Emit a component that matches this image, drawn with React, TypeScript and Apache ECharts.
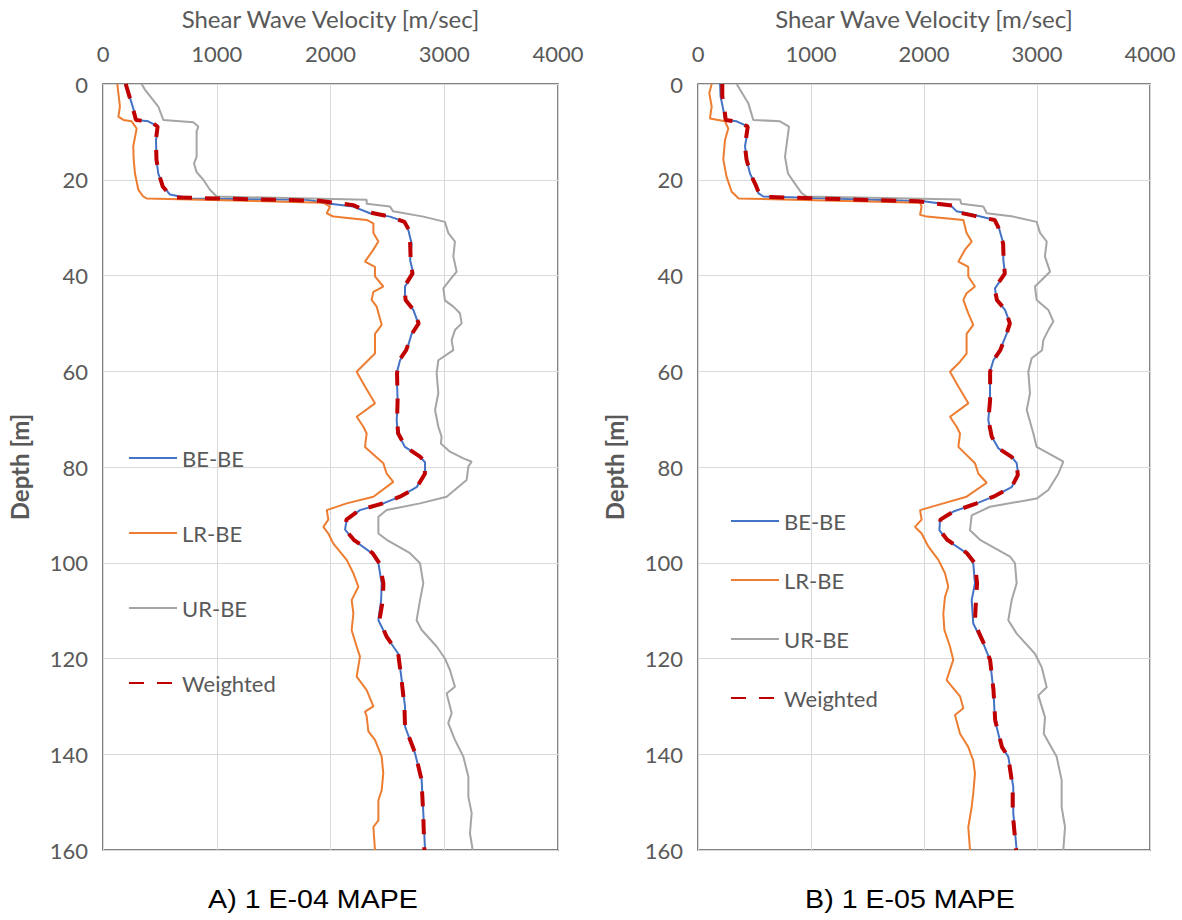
import React, { useEffect, useRef } from "react";
import * as echarts from "echarts";

// [depth (m), shear wave velocity (m/s)]
const A_BE: number[][] = [[0,193],[1.9,223],[4,252],[7.5,296],[7.8,398],[8.9,486],[11.7,466],[15.8,470],[18.7,486],[21.4,530],[23.1,589],[23.9,765],[24.2,1790],[25,1996],[25.6,2201],[27,2347],[27.7,2523],[28.8,2655],[30.5,2684],[33.3,2713],[36.8,2700],[39.6,2728],[42.3,2655],[45.1,2655],[47.2,2728],[50,2772],[52.2,2713],[55.6,2670],[57.7,2611],[60.4,2582],[66,2590],[70.2,2582],[73,2590],[75.8,2655],[77.9,2787],[79,2831],[81.4,2831],[84.2,2757],[86.2,2611],[87.6,2464],[89,2259],[91,2142],[93.1,2128],[95.2,2201],[98,2362],[100.1,2421],[104.3,2450],[107.8,2445],[112,2421],[115.5,2494],[119,2596],[124.5,2626],[130,2655],[134.2,2655],[139.8,2743],[145.3,2801],[152.3,2816],[160,2831]];
const A_LR: number[][] = [[0,126],[1.9,135],[4.7,149],[6.8,135],[7.5,179],[7.8,252],[9.3,296],[13,266],[15.8,270],[18.7,281],[22.1,311],[23.5,354],[23.9,383],[24.8,1937],[25.6,1996],[27,1967],[27.7,2025],[28.4,2318],[29.1,2377],[31.1,2377],[32.9,2421],[34.6,2377],[37.1,2303],[38.2,2391],[40.2,2391],[42.3,2464],[43.4,2377],[45.1,2362],[46.5,2406],[50.3,2450],[52.2,2391],[56.3,2391],[58,2318],[60.1,2230],[63.2,2303],[66.7,2391],[69.5,2230],[71.6,2289],[73,2318],[75.8,2303],[79.2,2464],[81.4,2494],[83.1,2552],[86.2,2377],[87.6,2142],[89,1967],[91,1981],[92.5,1937],[93.9,1981],[96,2025],[99.4,2142],[102.2,2201],[105,2245],[107.8,2186],[110.6,2201],[114.1,2186],[117.5,2230],[119.6,2259],[123.8,2230],[126.6,2318],[130,2377],[131.1,2303],[132.1,2318],[135.2,2333],[137,2391],[140.5,2450],[144,2464],[147.5,2450],[149.6,2421],[153.8,2421],[155.2,2377],[160,2391]];
const A_UR: number[][] = [[0,340],[1.25,370],[4.7,486],[7.5,530],[8,794],[8.9,838],[9.9,823],[15.2,823],[16.6,800],[18.4,823],[20,882],[22.1,940],[23.5,999],[24.2,2318],[25,2318],[25.6,2523],[26.6,2550],[27.7,2816],[28.8,3006],[31.1,3035],[32.9,3094],[36,3080],[39.2,3109],[40.9,3050],[42.7,2992],[45.2,3006],[46.5,3080],[47.9,3138],[50,3153],[51.4,3094],[53.5,3065],[55.6,3080],[57.7,2948],[60.4,2933],[64.6,2948],[68.1,2919],[71.6,2948],[73.7,2977],[75.1,2970],[76.8,3050],[78.2,3168],[78.9,3241],[79.9,3212],[82.7,3197],[86.2,3021],[87.6,2787],[89,2494],[90.4,2421],[93.9,2421],[95.2,2494],[98,2699],[100.1,2787],[104.3,2816],[107.8,2787],[112,2757],[114,2800],[117.5,2933],[120,3006],[122.4,3050],[125.9,3094],[127.3,3021],[131.4,3065],[133.5,3035],[137,3094],[140.5,3168],[144.7,3212],[148.9,3212],[152.3,3241],[156.5,3226],[160,3250]];
const A_W: number[][] = [[0,200],[2,225],[4,250],[7.5,290],[7.9,420],[8.9,480],[11.7,465],[15.8,470],[18.7,490],[21.4,525],[23.1,585],[23.7,640],[24.4,1900],[25.3,2200],[26.8,2340],[27.7,2520],[28.8,2650],[30.5,2690],[33.3,2700],[36.8,2705],[39.6,2720],[42.3,2650],[45.1,2660],[47.2,2730],[50,2775],[52.2,2715],[55.6,2665],[57.7,2605],[60.4,2585],[66,2590],[70.2,2585],[73,2595],[75.8,2660],[77.9,2790],[79,2830],[81.4,2830],[84.2,2760],[86.2,2610],[87.6,2460],[89,2255],[91,2140],[93.1,2130],[95.2,2205],[98,2370],[100.1,2430],[104.3,2465],[107.8,2460],[112,2430],[115.5,2495],[119,2595],[124.5,2625],[130,2650],[134.2,2655],[139.8,2745],[145.3,2800],[152.3,2815],[160,2825]];

const B_BE: number[][] = [[0,195],[2.6,200],[5.4,224],[7.5,239],[7.8,342],[8.9,445],[13,416],[15.8,430],[18.7,460],[20.8,504],[22.8,534],[23.5,578],[24.5,1994],[25.2,2230],[26.6,2289],[27.3,2436],[28.4,2628],[29.8,2660],[33.3,2702],[36.8,2702],[39.6,2717],[42.7,2628],[45.1,2643],[47.2,2717],[50,2761],[52.2,2731],[55.6,2673],[57.7,2614],[60.1,2584],[66,2584],[70.2,2569],[73.7,2600],[76.1,2658],[77.9,2776],[79.2,2820],[81.7,2835],[84.2,2776],[86.2,2614],[87.6,2466],[89.3,2260],[91,2142],[93.2,2136],[95.2,2200],[98,2377],[100.1,2436],[104.3,2451],[107.8,2422],[112.7,2436],[116.9,2525],[120.3,2584],[126.6,2614],[132.9,2628],[138.5,2687],[140.5,2746],[146.8,2790],[152.3,2790],[160,2820]];
const B_LR: number[][] = [[0,121],[1.9,100],[4.7,121],[7.2,106],[7.8,239],[9.3,268],[11.7,239],[15.8,224],[19.4,253],[22.5,298],[23.5,342],[23.9,360],[24.8,1965],[25.6,1979],[27.3,1965],[27.7,2024],[28.4,2348],[31.1,2377],[32.9,2422],[34.6,2363],[37.1,2304],[38.2,2392],[40.2,2392],[42.3,2451],[43.7,2377],[45.1,2348],[47.9,2392],[50.3,2436],[52.2,2377],[56.3,2377],[58,2319],[60.1,2230],[63.2,2304],[66.7,2392],[69.5,2230],[71.6,2289],[73,2319],[75.8,2304],[79.2,2451],[81.4,2481],[83.3,2555],[86.2,2377],[87.6,2171],[89,1965],[91,1979],[92.5,1920],[93.9,1979],[96.6,2038],[99.4,2127],[102.2,2186],[105,2215],[107.1,2186],[110.6,2171],[114,2180],[117.5,2230],[120.3,2259],[124.5,2200],[127.9,2319],[130.4,2348],[131.8,2274],[135.7,2319],[138.5,2392],[141.3,2436],[144,2451],[148.2,2436],[151,2422],[155.2,2392],[160,2407]];
const B_UR: number[][] = [[0,342],[4,445],[7.5,489],[7.8,726],[8.9,805],[15.2,770],[18.7,796],[20.8,858],[22.8,917],[23.5,962],[24.1,2319],[25,2330],[25.6,2525],[27,2555],[27.7,2790],[28.8,2997],[31.1,3027],[32.9,3086],[36,3070],[39.2,3115],[42.3,2982],[45.1,2997],[47.2,3100],[49.6,3145],[51.4,3100],[53.5,3056],[55.6,3045],[57.3,2953],[60.1,2923],[64.6,2938],[68.1,2909],[73,2968],[75.8,2997],[77.5,3130],[78.9,3233],[81.4,3189],[84.8,3100],[86.6,2997],[88.3,2584],[90.1,2422],[93.2,2407],[95.2,2496],[98.7,2761],[100.1,2805],[104.3,2820],[107.8,2776],[112,2746],[114.8,2820],[119,2982],[121.8,3041],[126,3086],[127.7,3012],[132.3,3071],[135.7,3060],[140.5,3174],[145.4,3218],[151,3218],[155.2,3248],[160,3233]];
const B_W: number[][] = [[0,215],[2.6,215],[5.4,235],[7.5,245],[7.9,360],[8.9,440],[13,415],[15.8,430],[18.7,462],[20.8,505],[22.8,540],[23.6,600],[24.5,1950],[25.4,2250],[26.8,2300],[27.5,2440],[28.4,2625],[29.8,2655],[33.3,2700],[36.8,2705],[39.6,2715],[42.7,2625],[45.1,2645],[47.2,2720],[50,2760],[52.2,2730],[55.6,2675],[57.7,2615],[60.1,2585],[66,2585],[70.2,2570],[73.7,2600],[76.1,2660],[77.9,2775],[79.2,2820],[81.7,2830],[84.2,2775],[86.2,2615],[87.6,2465],[89.3,2260],[91,2145],[93.2,2140],[95.2,2205],[98,2380],[100.1,2450],[104.3,2470],[107.8,2460],[112.7,2450],[116.9,2530],[120.3,2585],[126.6,2615],[132.9,2630],[138.5,2690],[140.5,2745],[146.8,2785],[152.3,2785],[160,2815]];

const SERIES_NAMES = ["BE-BE", "LR-BE", "UR-BE", "Weighted"];
const CAPTIONS = ["A) 1 E-04 MAPE", "B) 1 E-05 MAPE"];
const X_NAME = "Shear Wave Velocity [m/sec]";
const Y_NAME = "Depth [m]";

const FONT = "Lato, 'Noto Sans', sans-serif";
const GREY_TEXT = "#595959";

export default function App() {
  const ref = useRef<HTMLDivElement>(null);
  useEffect(() => {
    if (!ref.current) return;
    const chart = echarts.init(ref.current, null, { renderer: "svg" });
    const panels = [
      { be: A_BE, lr: A_LR, ur: A_UR, w: A_W },
      { be: B_BE, lr: B_LR, ur: B_UR, w: B_W },
    ];
    const grids = [
      { left: 103, top: 84, width: 455, height: 766 },
      { left: 698, top: 84, width: 452, height: 766 },
    ];
    const styles = [
      { color: "#4472C4", width: 2, type: "solid" as any },
      { color: "#ED7D31", width: 2, type: "solid" as any },
      { color: "#A5A5A5", width: 2, type: "solid" as any },
      { color: "#C00000", width: 4, type: [15, 13] as any },
    ];
    const series: any[] = [];
    panels.forEach((p, i) => {
      [p.be, p.lr, p.ur, p.w].forEach((arr, k) => {
        series.push({
          type: "line",
          name: SERIES_NAMES[k],
          xAxisIndex: i,
          yAxisIndex: i,
          data: arr.map(([d, v]) => [v, d]),
          symbol: "none",
          showSymbol: false,
          color: styles[k].color,
          lineStyle: { ...styles[k], cap: "butt" },
          z: 2 + k,
        });
      });
    });
    const xAxes = grids.map((_, i) => ({
      type: "value",
      gridIndex: i,
      position: "top",
      min: 0,
      max: 4000,
      interval: 1000,
      name: X_NAME,
      nameLocation: "middle",
      nameGap: 54,
      nameTextStyle: { fontFamily: FONT, fontSize: 24, color: GREY_TEXT },
      axisLine: { show: false },
      axisTick: { show: false },
      axisLabel: { fontFamily: FONT, fontSize: 22, color: GREY_TEXT, margin: 20, formatter: (v: number) => String(v) },
      splitLine: { show: true, lineStyle: { color: "#D9D9D9", width: 1 } },
    }));
    const yAxes = grids.map((_, i) => ({
      type: "value",
      gridIndex: i,
      inverse: true,
      min: 0,
      max: 160,
      interval: 20,
      name: Y_NAME,
      nameLocation: "middle",
      nameGap: 72,
      nameRotate: 90,
      nameTextStyle: { fontFamily: FONT, fontSize: 24, fontWeight: "bold", color: GREY_TEXT },
      axisLine: { show: false },
      axisTick: { show: false },
      axisLabel: { fontFamily: FONT, fontSize: 22, color: GREY_TEXT, margin: 15, formatter: (v: number) => String(v) },
      splitLine: { show: true, lineStyle: { color: "#D9D9D9", width: 1 } },
    }));
    const legendBase = {
      orient: "vertical",
      itemWidth: 48,
      itemHeight: 20,
      padding: 0,
      selectedMode: false,
      data: SERIES_NAMES,
      itemStyle: { opacity: 0 },
      textStyle: { fontFamily: FONT, fontSize: 22, color: GREY_TEXT, lineHeight: 20 },
    };
    chart.setOption({
      animation: false,
      backgroundColor: "#ffffff",
      grid: grids.map((g) => ({
        ...g,
        show: true,
        borderColor: "#595959",
        borderWidth: 1.5,
        backgroundColor: "transparent",
        containLabel: false,
        outerBoundsMode: "none",
      })),
      xAxis: xAxes,
      yAxis: yAxes,
      legend: [
        { ...legendBase, left: 128, top: 447, itemGap: 53 },
        { ...legendBase, left: 730, top: 510, itemGap: 37 },
      ],
      series,
      graphic: CAPTIONS.map((c, i) => ({
        type: "text",
        x: i === 0 ? 313 : 910,
        y: 899,
        scaleX: 1.1,
        style: {
          text: c,
          fontFamily: "'Liberation Sans', Arial, sans-serif",
          fontSize: 26,
          fill: "#000000",
          textAlign: "center",
          textVerticalAlign: "middle",
        },
      })),
    });
    return () => chart.dispose();
  }, []);
  return (
    <div
      ref={ref}
      style={{ position: "fixed", left: 0, top: 0, width: 1182, height: 920, background: "#fff" }}
    />
  );
}
